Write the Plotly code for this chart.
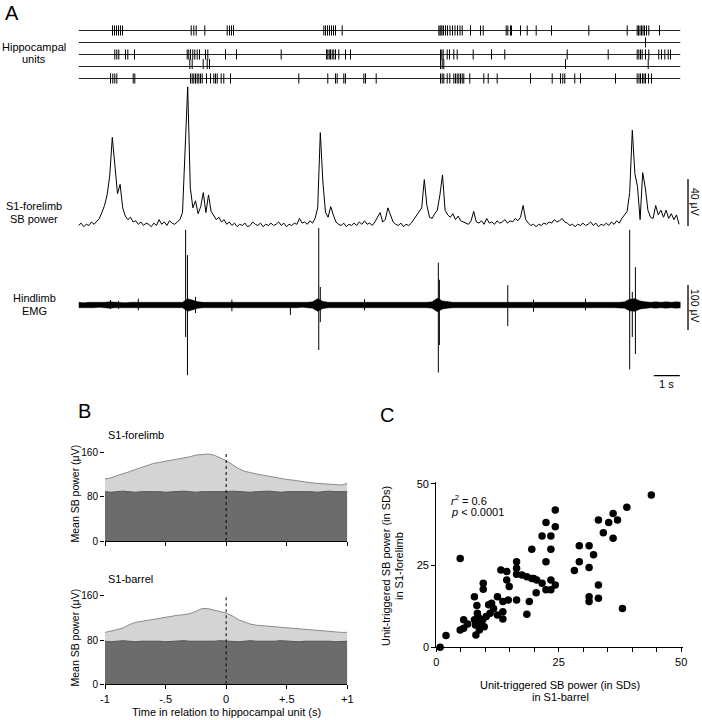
import plotly.graph_objects as go

W, H = 702, 720
def px(x): return x / W
def py(y): return 1 - y / H

FONT = "Liberation Sans, Arial, Helvetica, sans-serif"

# ---------------- Panel A data ----------------
T_TOTAL = 23.154  # seconds shown
unit1_spikes = [1.308, 1.385, 1.462, 1.538, 1.615, 1.692, 4.335, 4.435, 4.527, 4.858,
                5.719, 5.808, 5.885, 5.962, 9.435, 9.5, 9.577, 9.654, 9.731, 9.808, 9.885,
                10.142, 13.858, 13.904, 13.942, 13.981, 14.038, 14.115, 14.192, 14.288,
                14.385, 14.481, 14.577, 14.673, 14.758, 15.077, 15.462, 15.565, 16.45,
                16.512, 16.615, 16.654, 17.0, 17.258, 17.604, 18.192, 19.627, 21.104,
                21.488, 21.538, 21.596, 21.654, 21.712, 21.769, 21.846, 21.935, 22.346]
unit2_spikes = [21.808]
unit3_spikes = [1.396, 1.473, 1.55, 1.808, 1.896, 2.154, 4.181, 4.242, 4.308, 4.396,
                4.473, 4.565, 4.654, 4.885, 4.973, 5.654, 6.077, 7.796, 9.538, 9.588,
                9.642, 9.692, 9.758, 9.819, 9.885, 10.012, 10.269, 10.462, 13.923,
                13.973, 14.027, 14.181, 14.269, 14.435, 14.565, 15.181, 15.885, 16.396,
                18.796, 20.373, 21.488, 21.55, 21.615, 21.681, 21.808, 21.935, 22.319,
                22.423, 22.55, 22.681, 22.769]
unit4_spikes = [4.281, 4.373, 4.796, 4.95, 5.038, 13.923, 13.988, 14.05, 18.731, 21.912]
unit5_spikes = [1.231, 1.319, 1.396, 1.473, 2.104, 2.165, 4.308, 4.373, 4.435, 4.5,
                4.565, 4.627, 4.692, 4.758, 4.923, 5.077, 5.204, 5.269, 5.335, 5.488,
                5.588, 5.846, 8.473, 9.588, 9.885, 9.95, 10.204, 10.269, 10.973, 11.038,
                11.45, 13.923, 13.988, 14.05, 14.181, 14.281, 14.435, 14.5, 14.565,
                14.627, 14.692, 14.758, 14.819, 15.05, 15.588, 15.758, 16.104, 17.385,
                18.219, 18.538, 18.627, 18.704, 19.088, 19.308, 20.654, 21.488, 21.558,
                21.615, 21.692, 21.75, 21.808, 21.923, 22.038]
units = [unit1_spikes, unit2_spikes, unit3_spikes, unit4_spikes, unit5_spikes]

sb_dt = 0.1  # s
sb_power = [3, 5, 2, 4, 3, 6, 4, 7, 9, 14,
            20, 29, 45, 78, 55, 30, 38, 18, 11, 8,
            10, 6, 7, 4, 6, 3, 5, 4, 2, 5,
            3, 8, 4, 6, 3, 7, 5, 4, 6, 8,
            14, 68, 121, 35, 18, 24, 13, 19, 31, 14,
            29, 15, 12, 8, 10, 6, 8, 4, 6, 3,
            5, 2, 4, 3, 5, 2, 3, 6, 4, 3,
            5, 2, 4, 3, 5, 3, 4, 6, 3, 5,
            2, 4, 3, 5, 4, 9, 5, 6, 4, 7,
            5, 9, 18, 82, 40, 14, 10, 19, 12, 6,
            4, 3, 5, 2, 4, 3, 5, 3, 6, 4,
            7, 4, 5, 3, 6, 10, 14, 6, 8, 18,
            12, 6, 4, 3, 5, 2, 4, 3, 5, 8,
            11, 14, 18, 42, 20, 10, 9, 13, 16, 29,
            46, 16, 12, 10, 13, 8, 11, 7, 6, 5,
            4, 7, 15, 6, 5, 7, 4, 9, 5, 6,
            4, 7, 5, 6, 8, 5, 7, 6, 9, 7,
            10, 20, 8, 5, 3, 4, 2, 4, 3, 5,
            4, 6, 5, 8, 6, 7, 9, 6, 5, 3,
            4, 2, 4, 3, 5, 3, 4, 6, 3, 5,
            2, 4, 3, 5, 3, 6, 4, 7, 5, 9,
            12, 15, 31, 84, 47, 36, 8, 48, 35, 16,
            10, 9, 20, 12, 16, 10, 16, 9, 13, 8,
            12, 4]

emg_dt = 0.2  # s
emg_env = [6, 5, 6, 6, 5, 6, 7, 6, 6, 5,
           6, 6, 5, 6, 6, 5, 6, 6, 5, 6,
           6, 14, 10, 7, 6, 6, 6, 6, 6, 5,
           6, 5, 6, 6, 5, 6, 6, 5, 6, 6,
           6, 6, 6, 5, 6, 7, 14, 8, 6, 6,
           6, 6, 5, 6, 6, 5, 6, 6, 6, 5,
           6, 6, 6, 5, 6, 6, 6, 6, 7, 15,
           9, 7, 6, 6, 6, 5, 6, 6, 6, 6,
           6, 5, 6, 6, 6, 6, 6, 6, 6, 6,
           6, 6, 6, 5, 6, 6, 6, 5, 6, 6,
           6, 6, 6, 6, 6, 7, 13, 14, 9, 7,
           6, 7, 6, 7, 6, 7, 6]
emg_spike_t = [1.23, 1.54, 2.30, 4.12, 4.19, 4.50, 5.90, 8.15, 9.24, 9.30, 11.0,
               13.84, 13.88, 16.51, 17.5, 19.5, 21.20, 21.30, 21.42]
emg_spike_up = [11, 9, 14, 167, 111, 18, 12, 4, 171, 40, 13, 94, 56, 44, 12, 14, 167, 29, 84]
emg_spike_dn = [-9, -9, -12, -71, -156, -18, -14, -22, -100, -38, -12, -150, -89, -47,
                -15, -12, -143, -71, -109]

sb_scale_uv = 40
emg_scale_uv = 100
time_scale_s = 1

# ---------------- Panel B data ----------------
b_time = [-1.0, -0.95, -0.9, -0.85, -0.8, -0.75, -0.7, -0.65, -0.6, -0.55, -0.5,
          -0.45, -0.4, -0.35, -0.3, -0.25, -0.2, -0.15, -0.1, -0.05, 0.0,
          0.05, 0.1, 0.15, 0.2, 0.25, 0.3, 0.35, 0.4, 0.45, 0.5,
          0.55, 0.6, 0.65, 0.7, 0.75, 0.8, 0.85, 0.9, 0.95, 1.0]
forelimb_mean = [112, 114, 118, 121, 125, 129, 133, 136, 140, 142, 144, 146, 147, 149,
                 152, 155, 156, 157, 155, 150, 145, 138, 131, 126, 123, 121, 119, 117,
                 114, 112, 111, 110, 108, 107, 105, 104, 103, 102, 102, 101, 104]
forelimb_shuffled = [89, 88, 89, 90, 89, 88, 89, 89, 90, 89, 88, 89, 89, 90, 89, 88, 89,
                     89, 88, 89, 89, 90, 89, 89, 88, 89, 90, 90, 89, 88, 89, 89, 90, 89,
                     89, 88, 89, 90, 89, 89, 89]
barrel_mean = [94, 96, 99, 102, 108, 112, 114, 116, 118, 120, 121, 123, 125, 126, 128,
               132, 137, 137, 134, 131, 129, 124, 117, 113, 109, 107, 106, 105, 104, 103,
               102, 101, 101, 100, 99, 98, 97, 96, 95, 94, 94]
barrel_shuffled = [78, 77, 78, 79, 78, 77, 78, 78, 79, 78, 77, 78, 78, 79, 78, 78, 77, 78,
                   78, 79, 78, 78, 77, 78, 79, 78, 78, 77, 78, 79, 78, 78, 77, 78, 78, 79,
                   78, 78, 77, 78, 78]
b_yticks = [0, 80, 160]
b_xticks = [-1, -0.5, 0, 0.5, 1]
b_xticklabels = ["-1", "-.5", "0", "+.5", "+1"]

# ---------------- Panel C data ----------------
c_barrel = [0.8, 2.0, 4.9, 4.9, 5.6, 5.6, 6.4, 7.8, 7.8, 8.1, 8.3, 8.4, 8.1, 8.8, 8.6,
            9.6, 9.6, 9.5, 9.8, 10.2, 10.7, 11.3, 11.7, 12.5, 12.5, 13.2, 13.6, 13.6,
            13.6, 14.4, 14.4, 14.9, 16.4, 16.4, 16.4, 16.4, 17.5, 18.5, 18.5, 19.0, 19.5,
            19.9, 20.5, 20.4, 21.6, 21.6, 22.4, 22.4, 22.4, 23.4, 23.4, 23.4, 23.4, 24.3,
            24.3, 24.3, 28.2, 29.2, 29.2, 31.2, 31.2, 31.2, 31.2, 32.1, 33.1, 33.1, 33.1,
            34.1, 35.2, 36.1, 36.1, 37.0, 38.0, 38.9, 43.9, 9.0, 8.0, 11.0, 14.7, 19.5]
c_forelimb = [0.0, 3.6, 27.2, 5.3, 8.4, 5.8, 7.1, 15.5, 8.4, 3.8, 12.8, 10.4, 7.9, 5.3,
              9.2, 19.6, 17.8, 8.4, 6.3, 9.4, 13.0, 13.5, 11.9, 15.5, 9.9, 23.7, 14.0,
              10.9, 8.7, 23.2, 20.6, 18.6, 26.2, 24.2, 22.4, 14.5, 22.1, 21.6, 10.1, 14.0,
              30.0, 21.1, 20.6, 16.7, 19.6, 34.1, 38.2, 26.2, 17.6, 34.1, 30.0, 20.6, 17.6,
              42.0, 36.9, 19.1, 23.5, 31.1, 26.2, 31.1, 24.4, 15.5, 14.0, 28.3, 39.0, 19.1,
              15.0, 35.1, 38.2, 41.0, 33.4, 39.0, 11.9, 42.9, 46.6, 7.3, 6.8, 10.4, 14.5,
              21.1]
c_major_ticks = [0, 25, 50]
c_minor_ticks = [5, 10, 15, 20, 30, 35, 40, 45]

# ---------------- build figure ----------------
fig = go.Figure()

# raster baselines
bx, by = [], []
for r in range(len(units)):
    bx += [0, T_TOTAL, None]
    by += [r, r, None]
fig.add_trace(go.Scatter(x=bx, y=by, xaxis="x", yaxis="y", mode="lines",
                         line=dict(color="#222", width=1), hoverinfo="skip"))
# raster ticks
for r, spikes in enumerate(units):
    c = r - 0.2 if r == 3 else r
    sx, sy = [], []
    for t in spikes:
        sx += [t, t, None]
        sy += [c - 0.42, c + 0.42, None]
    fig.add_trace(go.Scatter(x=sx, y=sy, xaxis="x", yaxis="y", mode="lines",
                             line=dict(color="black", width=1), hoverinfo="skip"))

# SB power trace
sb_t = [i * sb_dt for i in range(len(sb_power))]
fig.add_trace(go.Scatter(x=sb_t, y=sb_power, xaxis="x", yaxis="y2", mode="lines",
                         line=dict(color="black", width=1), hoverinfo="skip"))

# EMG band
emg_t = [i * emg_dt for i in range(len(emg_env))]
fig.add_trace(go.Scatter(x=emg_t + emg_t[::-1],
                         y=emg_env + [-v for v in emg_env[::-1]],
                         xaxis="x", yaxis="y3", mode="lines", fill="toself",
                         fillcolor="black", line=dict(color="black", width=0.5),
                         hoverinfo="skip"))
ex, ey = [], []
for t, u, d in zip(emg_spike_t, emg_spike_up, emg_spike_dn):
    ex += [t, t, None]
    ey += [d, u, None]
fig.add_trace(go.Scatter(x=ex, y=ey, xaxis="x", yaxis="y3", mode="lines",
                         line=dict(color="black", width=1), hoverinfo="skip"))

# Panel B
LIGHT, LIGHT_EDGE = "#d4d4d4", "#8a8a8a"
DARK, DARK_EDGE = "#6c6c6c", "#555555"
for xa, ya, mean, shuf in [("x2", "y4", forelimb_mean, forelimb_shuffled),
                           ("x3", "y5", barrel_mean, barrel_shuffled)]:
    fig.add_trace(go.Scatter(x=b_time, y=mean, xaxis=xa, yaxis=ya, mode="lines",
                             fill="tozeroy", fillcolor=LIGHT,
                             line=dict(color=LIGHT_EDGE, width=1), hoverinfo="skip"))
    fig.add_trace(go.Scatter(x=b_time, y=shuf, xaxis=xa, yaxis=ya, mode="lines",
                             fill="tozeroy", fillcolor=DARK,
                             line=dict(color=DARK_EDGE, width=1), hoverinfo="skip"))

# Panel C
fig.add_trace(go.Scatter(x=c_barrel, y=c_forelimb, xaxis="x4", yaxis="y6",
                         mode="markers", cliponaxis=False,
                         marker=dict(color="black", size=7.5), hoverinfo="skip"))

hidden = dict(visible=False, showgrid=False, zeroline=False, automargin=False)
tickfont = dict(family=FONT, size=11, color="black")
btickfont = dict(family=FONT, size=10, color="black")
b_x_common = dict(domain=[px(105), px(347.3)], range=[-1, 1], showline=True,
                  linecolor="black", linewidth=1, ticks="outside", ticklen=4,
                  tickcolor="black", tickvals=b_xticks, ticktext=b_xticklabels,
                  showgrid=False, zeroline=False, tickfont=tickfont, automargin=False)
b_y_common = dict(range=[0, 170], showline=False, ticks="outside", ticklen=4,
                  tickcolor="black", tickvals=b_yticks, showgrid=False,
                  zeroline=False, tickfont=btickfont, automargin=False)

fig.update_layout(
    width=W, height=H, margin=dict(l=0, r=0, t=0, b=0, pad=0, autoexpand=False),
    paper_bgcolor="white", plot_bgcolor="rgba(0,0,0,0)", showlegend=False,
    font=dict(family=FONT, size=11, color="black"),
    xaxis=dict(domain=[px(78.5), px(680.5)], range=[0, T_TOTAL], anchor="y", **hidden),
    yaxis=dict(domain=[py(90.5), py(18.5)], range=[5, -1], anchor="x", **hidden),
    yaxis2=dict(domain=[py(232), py(80)], range=[-2.55, 126.8], anchor="x", **hidden),
    yaxis3=dict(domain=[py(385), py(225)], range=[-177.8, 177.8], anchor="x", **hidden),
    xaxis2=dict(anchor="y4", showticklabels=False, **b_x_common),
    yaxis4=dict(domain=[py(541), py(446.8)], anchor="x2", **b_y_common),
    xaxis3=dict(anchor="y5", showticklabels=True, **b_x_common),
    yaxis5=dict(domain=[py(684.3), py(590.4)], anchor="x3", **b_y_common),
    xaxis4=dict(domain=[px(436.2), px(683.2)], range=[0, 50.4], anchor="y6",
                showline=True, linecolor="black", linewidth=1, ticks="outside",
                ticklen=4, tickcolor="black", tickmode="array", tickvals=c_major_ticks,
                minor=dict(tickmode="array", tickvals=c_minor_ticks, ticks="outside",
                           ticklen=4, tickcolor="black", showgrid=False),
                showgrid=False, zeroline=False, tickfont=tickfont, automargin=False),
    yaxis6=dict(domain=[py(647.3), py(481.7)], range=[0, 50.7], anchor="x4",
                showline=True, linecolor="black", linewidth=1, ticks="outside",
                ticklen=4, tickcolor="black", tickvals=c_major_ticks, showgrid=False,
                zeroline=False, tickfont=tickfont, automargin=False),
)

shapes = [
    dict(type="line", xref="paper", yref="y2", x0=px(688), x1=px(688),
         y0=2.55, y1=2.55 + sb_scale_uv, line=dict(color="black", width=1.3)),
    dict(type="line", xref="paper", yref="y3", x0=px(688), x1=px(688),
         y0=-55.6, y1=-55.6 + emg_scale_uv, line=dict(color="black", width=1.3)),
    dict(type="line", xref="x", yref="paper", x0=22.127, x1=22.127 + time_scale_s,
         y0=py(375.7), y1=py(375.7), line=dict(color="black", width=1.3)),
    dict(type="line", xref="x2", yref="y4", x0=0, x1=0, y0=0, y1=161, layer="above",
         line=dict(color="black", width=1, dash="dot")),
    dict(type="line", xref="x3", yref="y5", x0=0, x1=0, y0=0, y1=161, layer="above",
         line=dict(color="black", width=1, dash="dot")),
]
fig.update_layout(shapes=shapes)

def ann(text, x, y, size=11, xanchor="center", angle=0):
    return dict(text=text, x=px(x), y=py(y), xref="paper", yref="paper",
                showarrow=False, xanchor=xanchor, yanchor="middle", textangle=angle,
                font=dict(family=FONT, size=size, color="black"))

annotations = [
    ann("A", 12, 13, size=20),
    ann("Hippocampal", 34, 47), ann("units", 34, 59),
    ann("S1-forelimb", 34, 206), ann("SB power", 34, 219),
    ann("Hindlimb", 34, 298), ann("EMG", 34, 311),
    ann("40 μV", 695, 202, size=10.5, angle=90),
    ann("100 μV", 695, 306, size=10.5, angle=90),
    ann("1 s", 666, 384),
    ann("B", 84, 411, size=20),
    ann("S1-forelimb", 106, 435, xanchor="left"),
    ann("S1-barrel", 106, 579, xanchor="left"),
    ann("Mean SB power (μV)", 74.5, 494, size=10.5, angle=-90),
    ann("Mean SB power (μV)", 74.5, 638, size=10.5, angle=-90),
    ann("Time in relation to hippocampal unit (s)", 226, 712),
    ann("C", 387, 415, size=20),
    ann("<i>r</i><sup>2</sup> = 0.6", 449, 500, xanchor="left"),
    ann("<i>p</i> &lt; 0.0001", 449, 512, xanchor="left"),
    ann("Unit-triggered SB power (in SDs)", 560, 685),
    ann("in S1-barrel", 560, 697),
    ann("Unit-triggered SB power (in SDs)", 386, 566, angle=-90),
    ann("in S1-forelimb", 399, 566, angle=-90),
]
fig.update_layout(annotations=annotations)

fig.write_html("out.html",
               config={"displayModeBar": False, "staticPlot": True},
               post_script="document.body.style.margin='0';"
                           "document.body.style.overflow='hidden';")
